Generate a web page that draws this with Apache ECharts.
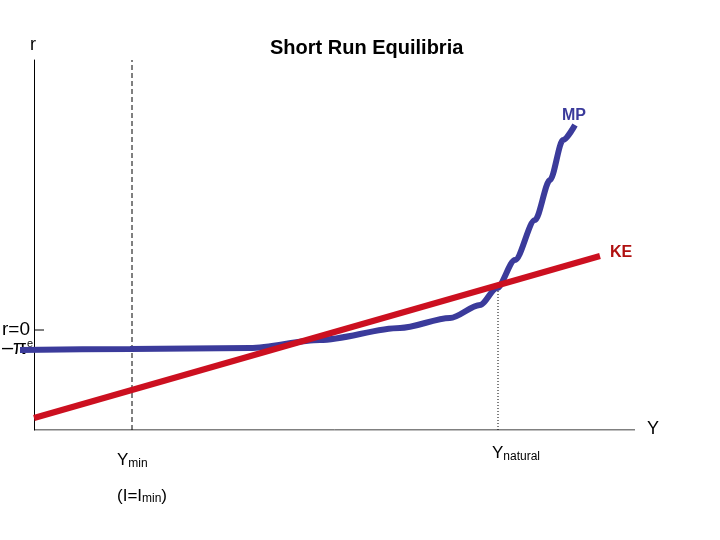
<!DOCTYPE html>
<html><head><meta charset="utf-8">
<script src="https://cdn.jsdelivr.net/npm/echarts@6/dist/echarts.min.js"></script>
<style>html,body{margin:0;background:#fff}#c{width:720px;height:540px}</style>
</head><body><div id="c"></div>
<script>
// curves, in axis units (Y to the right, r upward)
var mpPoints = [[-14,80],[96,81],[216,82],[286,90],[366,102],[416,112],[446,125],[463,142],[481,170],[501,210],[516,250],[529,290],[541,305]];
var kePoints = [[0,12],[566,174]];
var yMin = 98, yNatural = 464, yNaturalR = 142, rZero = 100, yAxisEnd = 601;

var chart = echarts.init(document.getElementById('c'));
var font = 'Liberation Sans, Arial, sans-serif';
var txt = function (x, y, s, opt) {
  return {type: 'text', x: x, y: y, style: Object.assign({text: s, fill: '#000', font: '18px ' + font}, opt || {})};
};
chart.setOption({
  animation: false,
  grid: {left: 20, right: 85, top: 60, bottom: 110},
  xAxis: {type: 'value', min: -14, max: 601, axisLine: {show: false},
    axisTick: {show: false}, axisLabel: {show: false}, splitLine: {show: false}},
  yAxis: {type: 'value', min: 0, max: 370, axisLine: {show: true, onZero: true, lineStyle: {color: '#000'}},
    axisTick: {show: false}, axisLabel: {show: false}, splitLine: {show: false}},
  series: [
    {type: 'line', data: [[0, 0], [yAxisEnd, 0]], symbol: 'none', silent: true,
      lineStyle: {color: '#000', width: 1}},
    {type: 'line', data: [[yMin, 0], [yMin, 370]], symbol: 'none', silent: true,
      lineStyle: {color: '#000', width: 1, type: [5, 3]}},
    {type: 'line', data: [[yNatural, 0], [yNatural, yNaturalR]], symbol: 'none', silent: true,
      lineStyle: {color: '#000', width: 1, type: [1, 2]}},
    {type: 'line', data: [[0, rZero], [10, rZero]], symbol: 'none', silent: true,
      lineStyle: {color: '#000', width: 1}},
    {type: 'line', data: mpPoints, smooth: 0.3, smoothMonotone: 'x', symbol: 'none',
      lineStyle: {color: '#3b3b9b', width: 6}},
    {type: 'line', data: kePoints, symbol: 'none',
      lineStyle: {color: '#cc1020', width: 6}}
  ],
  graphic: [
    txt(270, 38, 'Short Run Equilibria', {font: 'bold 20px ' + font}),
    txt(30, 36, 'r'),
    txt(562, 108, 'MP', {fill: '#3b3b9b', font: 'bold 16px ' + font}),
    txt(610, 245, 'KE', {fill: '#b01010', font: 'bold 16px ' + font}),
    txt(647, 420, 'Y'),
    txt(2, 320, 'r=0', {font: '19px ' + font}),
    {type: 'text', x: 2, y: 338, style: {text: '{a|\u2013\u03c0}{b|e}', rich: {a: {font: '20px ' + font, fill: '#000'}, b: {font: '11px ' + font, fill: '#000', verticalAlign: 'top', padding: [0, 0, 10, 0]}}}},
    {type: 'text', x: 117, y: 450, style: {text: '{a|Y}{b|min}', rich: {a: {font: '17px ' + font}, b: {font: '12px ' + font, padding: [8, 0, 0, 0]}}}},
    {type: 'text', x: 117, y: 487, style: {text: '{a|(I=I}{b|min}{a|)}', rich: {a: {font: '17px ' + font}, b: {font: '12px ' + font, padding: [6, 0, 0, 0]}}}},
    {type: 'text', x: 492, y: 443, style: {text: '{a|Y}{b|natural}', rich: {a: {font: '17px ' + font}, b: {font: '12px ' + font, padding: [8, 0, 0, 0]}}}}
  ]
});
</script></body></html>
